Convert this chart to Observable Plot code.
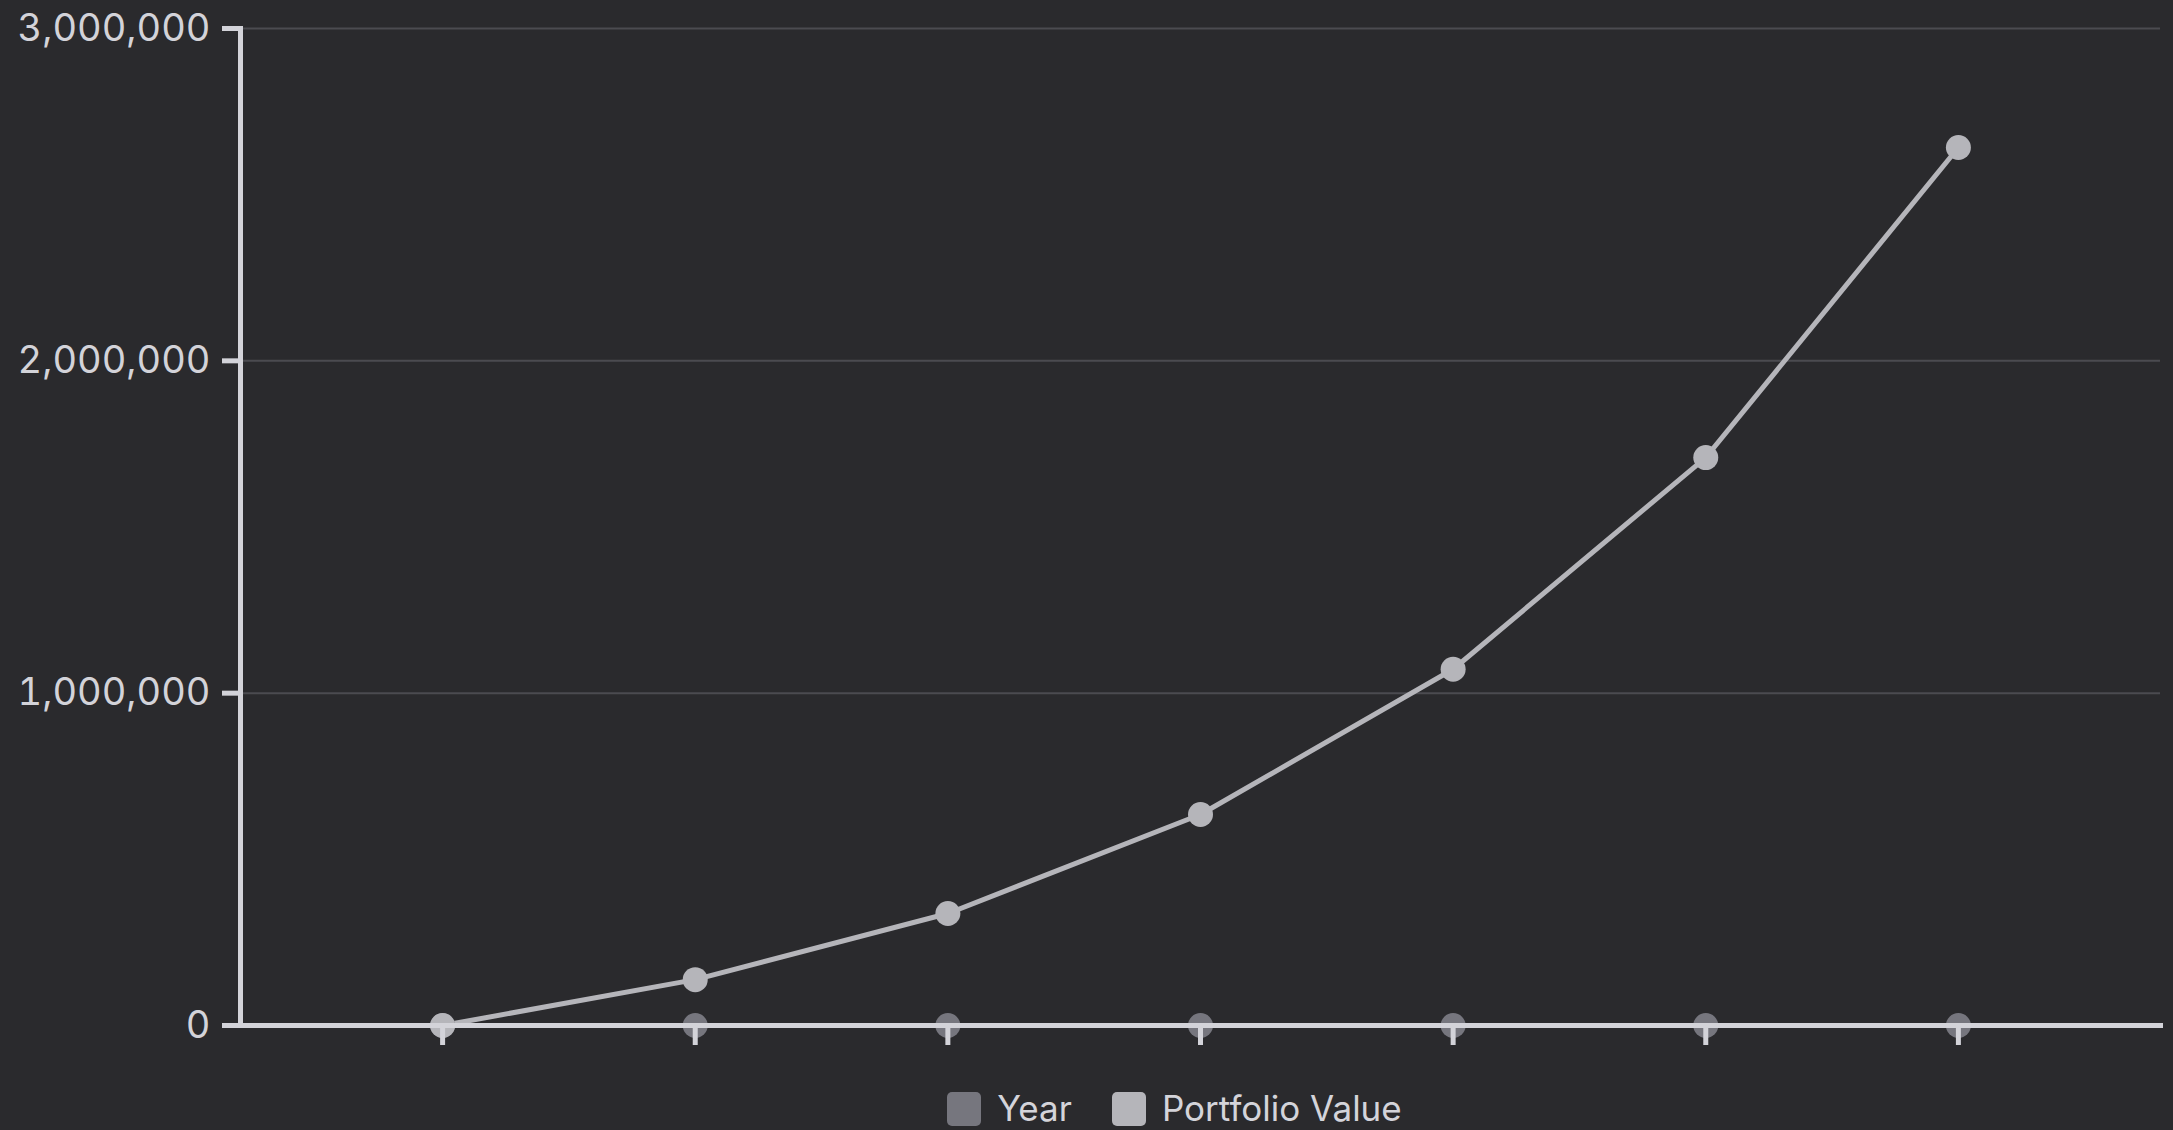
<!DOCTYPE html>
<html>
<head>
<meta charset="utf-8">
<script src="https://cdn.jsdelivr.net/npm/d3@7"></script>
<script src="https://cdn.jsdelivr.net/npm/@observablehq/plot@0.6"></script>
<style>
  html, body { margin: 0; padding: 0; background: #2a2a2d; overflow: hidden; }
  body { width: 2173px; height: 1130px; font-family: Inter, "Noto Sans", sans-serif; }
  #legend { display: flex; justify-content: center; align-items: center; margin-top: 31px; padding-left: 176px; gap: 40px; }
  .item { display: flex; align-items: center; gap: 16px; color: #d4d4da; font-size: 35px; line-height: 1; }
  .sw { width: 34px; height: 34px; border-radius: 5px; }
</style>
</head>
<body>
<div id="chart"></div>
<div id="legend"></div>
<script>
const years = [0, 5, 10, 15, 20, 25, 30];
const portfolioValue = [0, 138000, 337000, 635000, 1072000, 1709000, 2642000];
const seriesNames = ["Year", "Portfolio Value"];
const seriesColors = ["#76767e", "#b5b5ba"];
const yTicks = [0, 1000000, 2000000, 3000000];

const rows = [];
years.forEach((yr, i) => {
  rows.push({x: yr, series: "Year", value: yr});
  rows.push({x: yr, series: "Portfolio Value", value: portfolioValue[i]});
});

const axisColor = "#d3d3d9";

const chart = Plot.plot({
  width: 2173,
  height: 1060,
  marginLeft: 240,
  marginRight: 13,
  marginTop: 28,
  marginBottom: 35,
  style: {background: "transparent", color: axisColor, fontFamily: "Inter, 'Noto Sans', sans-serif"},
  x: {type: "point", domain: years, padding: 0.8, round: false, axis: null},
  y: {domain: [0, 3000000], axis: null},
  color: {domain: seriesNames, range: seriesColors},
  marks: [
    Plot.gridY(yTicks.slice(1), {stroke: "#4b4b50", strokeOpacity: 1, strokeWidth: 2}),
    Plot.line(rows, {x: "x", y: "value", z: "series", stroke: "series", strokeWidth: 5}),
    Plot.dot(rows, {x: "x", y: "value", fill: "series", r: 12.5}),
    Plot.frame({anchor: "left", stroke: axisColor, strokeWidth: 5}),
    Plot.frame({anchor: "bottom", stroke: axisColor, strokeWidth: 5}),
    Plot.axisY({ticks: yTicks, tickFormat: d3.format(","), tickSize: 18, tickPadding: 12, strokeWidth: 5, fontSize: 38, label: null, fill: axisColor}),
    Plot.axisX({ticks: years, tickFormat: () => "", tickSize: 20, strokeWidth: 5, label: null})
  ]
});
document.getElementById("chart").appendChild(chart);

const legend = document.getElementById("legend");
seriesNames.forEach((name, i) => {
  const item = document.createElement("div");
  item.className = "item";
  const sw = document.createElement("span");
  sw.className = "sw";
  sw.style.background = seriesColors[i];
  const t = document.createElement("span");
  t.textContent = name;
  item.appendChild(sw);
  item.appendChild(t);
  legend.appendChild(item);
});
</script>
</body>
</html>
